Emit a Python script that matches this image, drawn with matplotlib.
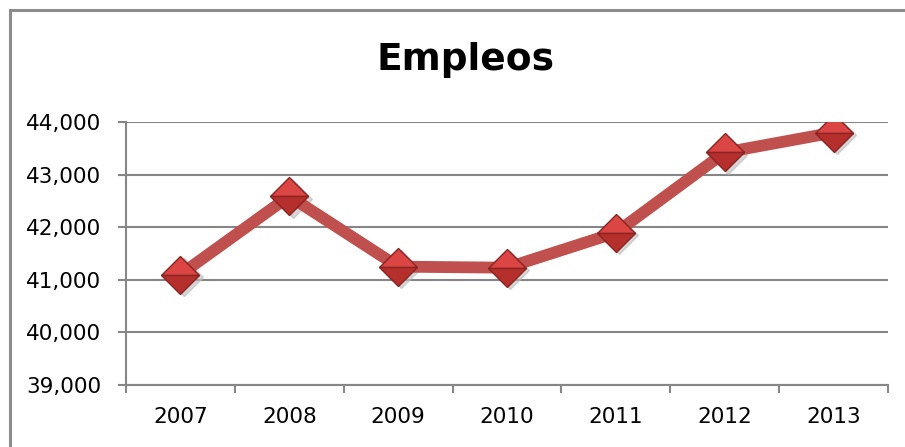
import matplotlib.pyplot as plt
from matplotlib.lines import Line2D
from matplotlib import ticker
import numpy as np

years = ['2007', '2008', '2009', '2010', '2011', '2012', '2013']
empleos = [41100, 42590, 41250, 41230, 41895, 43420, 43800]
yticks = [39000, 40000, 41000, 42000, 43000, 44000]

plt.rc('font', family='DejaVu Sans')
fig = plt.figure(figsize=(9.05, 4.47), dpi=100)
ax = fig.add_axes([0.1392, 0.1387, 0.842, 0.5884])

x = np.arange(len(years))
# shadow under the markers
ax.plot(x + 0.03, np.array(empleos) - 45, linestyle='none', marker='D', markersize=19.5,
        color='#bbbbbb', alpha=0.6, zorder=2)
ax.plot(x, empleos, linestyle='-', linewidth=8.5, color='#C0504D', solid_capstyle='butt',
        zorder=3)
ax.plot(x, empleos, linestyle='none', marker='D', markersize=19.5, fillstyle='top',
        markerfacecolor='#DB4644', markerfacecoloralt='#B52F2D',
        markeredgecolor='#8A2422', markeredgewidth=1.0, zorder=4)

ax.set_xlim(-0.5, 6.5)
ax.set_ylim(39000, 44000)
ax.set_yticks(yticks)
ax.yaxis.set_major_formatter(ticker.FuncFormatter(lambda v, p: '{:,.0f}'.format(v)))
ax.set_xticks(x)
ax.set_xticklabels(years)
ax.set_xticks(np.arange(-0.5, 7.0, 1.0), minor=True)
ax.tick_params(axis='x', which='major', length=0, pad=16, labelsize=15.5)
ax.tick_params(axis='x', which='minor', length=6, width=1.5, color='#868686')
ax.tick_params(axis='y', length=6, width=1.5, color='#868686', pad=12, labelsize=15.5)

ax.grid(axis='y', color='#868686', linewidth=1.5)
ax.set_axisbelow(True)
for s in ['top', 'right']:
    ax.spines[s].set_visible(False)
for s in ['left', 'bottom']:
    ax.spines[s].set_color('#868686')
    ax.spines[s].set_linewidth(1.5)

fig.text(0.514, 0.865, 'Empleos', ha='center', va='center', fontsize=27, weight='bold')

# chart frame (only top and left edges visible)
fig.add_artist(Line2D([10/905, 10/905], [0, 1 - 10/447], color='#8c8c8c', linewidth=2.2,
                      transform=fig.transFigure))
fig.add_artist(Line2D([10/905, 1], [1 - 10/447, 1 - 10/447], color='#8c8c8c', linewidth=2.2,
                      transform=fig.transFigure))

plt.savefig('out.png', dpi=100)
